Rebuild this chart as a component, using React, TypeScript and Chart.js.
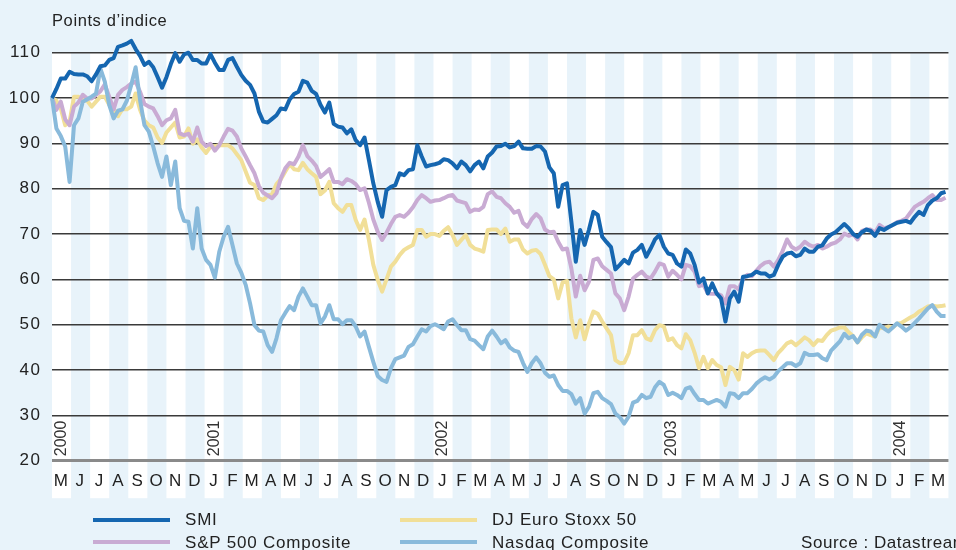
import React, { useEffect, useRef } from "react";
import { Chart, registerables } from "chart.js";

Chart.register(...registerables);

// Month letters, May 2000 → March 2004
const monthLetters = [
  "M", "J", "J", "A", "S", "O", "N", "D",
  "J", "F", "M", "A", "M", "J", "J", "A", "S", "O", "N", "D",
  "J", "F", "M", "A", "M", "J", "J", "A", "S", "O", "N", "D",
  "J", "F", "M", "A", "M", "J", "J", "A", "S", "O", "N", "D",
  "J", "F", "M",
];
const yearLabels = ["2000", "2001", "2002", "2003", "2004"];
const yearMonthIndex = [0, 8, 20, 32, 44];

const yMin = 20;
const yMax = 110;
const yStep = 10;

const seriesNames = ["SMI", "S&P 500 Composite", "DJ Euro Stoxx 50", "Nasdaq Composite"];
const seriesColors = ["#1566b0", "#c9abd3", "#f1df98", "#89badb"];

// Weekly index values (start = 100)
const smi = [
  100, 102, 104.3, 104.3, 105.8, 105.3, 105.2, 105.2, 104.8, 103.7,
  105.2, 107, 107.2, 108.4, 108.8, 111.3, 111.6, 112, 112.6, 110.8,
  109.3, 107.3, 108, 106.8, 104.6, 102.3, 104.6, 107.5, 109.9, 108,
  109.6, 110, 108.4, 108.4, 107.6, 107.6, 109.7, 107.8, 106.2, 106.2,
  108.4, 108.8, 106.9, 105.1, 103.8, 102.9, 101, 97, 94.8, 94.6,
  95.4, 96.2, 97.7, 97.5, 99.7, 100.9, 101.4, 103.8, 103.4, 101.6,
  100.9, 98.5, 96.8, 99, 94.3, 93.7, 93.5, 92.2, 93.1, 90.7,
  89.6, 91.3, 86.3, 81.2, 77.1, 73.8, 79.7, 80.4, 80.8, 83.4,
  83, 84.1, 84.3, 89.6, 87.1, 84.9, 85.2, 85.4, 85.7, 86.5,
  86.3, 85.6, 84.5, 86, 85.2, 83.8, 85.2, 86, 84.5, 87.1,
  88, 89.3, 89.4, 89.9, 89.1, 89.4, 90.4, 88.9, 88.8, 88.8,
  89.4, 89.3, 88.2, 84.7, 83.4, 76, 80.8, 81.2, 72.7, 63.9,
  70.9, 67.6, 71, 74.9, 74.2, 69.4, 68.2, 67.1, 62.2, 63.2,
  64.3, 63.5, 65.9, 66.5, 67.6, 65, 66.8, 68.8, 69.8, 67.2,
  65.7, 65.4, 63.5, 62.8, 66.6, 65.7, 63.2, 59.3, 60.2, 56.9,
  59.1, 56.9, 55.8, 50.7, 55.8, 57.3, 55.1, 60.6, 60.7, 61,
  61.7, 61.3, 61.3, 60.6, 61, 63.2, 65, 65.7, 65.9, 65.1,
  65.4, 66.8, 66.1, 66.1, 67.2, 67.5, 69, 69.9, 70.4, 71.3,
  72.2, 71.3, 70, 69.4, 70.4, 71, 70.7, 69.6, 71.3, 70.9,
  71.5, 72, 72.5, 72.7, 72.9, 72.5, 73.8, 74.9, 74.2, 76.4,
  77.4, 77.9, 79, 79.3,
];

const sp500 = [
  100, 97.4, 99.2, 95.3, 94, 98.1, 99, 100.7, 99.9, 99.9,
  100.7, 101.5, 103, 100.3, 97.5, 100.7, 101.8, 102.4, 103.2, 103.6,
  101.4, 98.7, 98.1, 97.7, 96, 94, 95.1, 95.5, 97.4, 92.2,
  91.8, 92.1, 90.4, 93.5, 90.4, 89.4, 89.9, 88.4, 89.6, 91.5,
  93.2, 92.8, 91.5, 88.9, 87.1, 85.2, 83.4, 80.6, 79.1, 78.5,
  77.9, 79, 82.3, 84.5, 85.7, 85.4, 87.1, 89.6, 87.2, 86.2,
  85, 82.6, 83.4, 84.3, 81.5, 81.5, 81, 82.1, 81.7, 81,
  79.7, 80.1, 76.9, 73.2, 70.5, 68.7, 70.3, 72.2, 73.8, 74.2,
  73.8, 74.7, 75.9, 77.5, 78.6, 77.9, 77.1, 77.4, 77.5, 77.9,
  78.4, 78.6, 77.4, 77.1, 76.8, 74.9, 75.4, 75.3, 76, 78.8,
  79.4, 78.2, 77.9, 76.8, 76, 74.7, 75.1, 72.5, 71.6, 73.3,
  74.4, 73.5, 71, 70.4, 70.5, 68.3, 66.6, 66.8, 62.4, 56.2,
  60.8, 57.6, 59.5, 64.3, 64.6, 62.9, 62.1, 61.3, 56.9, 55.8,
  53.2, 56.2, 60.2, 61, 61.7, 60.6, 60.2, 61.7, 63.5, 63.2,
  60.6, 61.9, 61, 60, 63.2, 62.9, 61.7, 58.5, 58.8, 56.9,
  56.8, 56.9, 56.5, 54.7, 58.5, 58.5, 57.8, 60.2, 61, 60.7,
  61.9, 63, 63.7, 63.9, 62.8, 64.3, 66.3, 68.8, 67.2, 66.6,
  67.2, 68.3, 67.6, 67.2, 67.6, 66.8, 67.2, 67.8, 68.1, 68.8,
  70.1, 69.6, 70, 68.8, 70.7, 71, 71, 70.3, 72, 71.3,
  71.5, 72, 72.6, 72.9, 73.4, 74.7, 76, 76.6, 77.1, 77.9,
  78.6, 77.5, 77.5, 78,
];

const euroStoxx = [
  100, 99.4, 97.7, 94, 94.8, 100.3, 100.3, 99.6, 99.4, 98.1,
  99.2, 100.3, 100.3, 98.5, 97.7, 96, 97.6, 97.5, 98.1, 101,
  97.4, 95, 94, 93.5, 91.3, 90.1, 92.4, 93.5, 94.6, 91.3,
  91.5, 93.3, 89.9, 90.9, 89.1, 87.9, 89.3, 89.4, 89.6, 89.6,
  89.6, 88.9, 87.6, 86.3, 83.8, 81.3, 80.8, 77.9, 77.5, 78.5,
  78.8, 81, 82.1, 83.8, 85.4, 84.3, 84.1, 85.7, 84.3, 83.4,
  82.6, 78.8, 79.6, 81.5, 76.8, 75.7, 74.9, 76.4, 76.4, 73.1,
  70.9, 73.2, 68.7, 63.2, 59.9, 57.3, 60, 62.8, 63.9, 65.4,
  66.5, 67.1, 67.6, 70.9, 70.9, 69.4, 70, 70, 69.6, 70.7,
  71.5, 69.8, 67.6, 68.7, 69.8, 67.6, 66.8, 66.5, 66.1, 70.9,
  71, 71, 70, 71.2, 68.3, 68.8, 68.8, 66.6, 65.7, 66.3,
  66.5, 65.6, 63.2, 60.7, 60, 55.8, 59.3, 59.7, 51.4, 47.2,
  51, 46.8, 50.3, 52.9, 52.4, 50.7, 49.2, 47.7, 42.2, 41.5,
  41.6, 43.7, 47.7, 47.7, 48.8, 47, 46.6, 48.8, 49.9, 49.6,
  46.6, 47, 45.5, 44.8, 47.9, 46.6, 43.8, 40.4, 42.9, 40.4,
  42.2, 41.1, 40.6, 36.7, 40.7, 40, 37.9, 43.7, 42.9, 43.7,
  44.2, 44.3, 44.3, 43.3, 42.2, 43.8, 44.8, 45.9, 46.3, 45.5,
  46.3, 47.2, 46.6, 45.5, 46.6, 46.4, 47.7, 48.7, 49, 49.4,
  49.4, 48.3, 47.5, 46.1, 47.2, 48.1, 47.7, 47.4, 49.4, 49.2,
  49.6, 49.4, 50.2, 50.4, 51, 51.6, 52.1, 52.9, 53.4, 54,
  54.2, 54, 54.1, 54.3,
];

const nasdaq = [
  100, 93.3, 91.6, 89.3, 81.5, 94, 95.5, 99.2, 99.7, 100.3,
  101, 106.5, 103.6, 98.5, 95.5, 97.2, 97.5, 99.4, 102.9, 106.8,
  99.6, 94, 92.6, 89.3, 85.6, 82.6, 87.1, 80.8, 86, 75.7,
  72.9, 72.7, 66.8, 75.7, 66.8, 64.3, 63.2, 60.4, 66.1, 69.4,
  71.6, 67.6, 63.5, 61.5, 58.8, 54.7, 49.9, 48.7, 48.5, 45.5,
  44, 47, 51, 52.6, 54.1, 53.2, 56.2, 58, 56.2, 54.3,
  54.3, 50.3, 51.8, 54.3, 51.2, 51.2, 50.1, 51, 51, 49.6,
  47.4, 48.5, 45.1, 41.8, 38.7, 37.8, 37.4, 40.4, 42.4, 42.8,
  43.2, 45.1, 45.7, 47.4, 49, 48.5, 49.7, 50.1, 49.6, 49,
  50.7, 51.2, 49.9, 48.8, 48.8, 46.8, 46.5, 45.5, 44.6, 47.4,
  48.7, 47.4, 45.9, 46.6, 45, 44.3, 44, 41.6, 39.6, 41.5,
  42.8, 41.5, 39.4, 38.5, 38.8, 36.7, 35.4, 35.4, 34.7, 32.6,
  33.8, 30.4, 31.9, 34.9, 35.2, 33.8, 33.2, 32.5, 30.4, 29.6,
  28.2, 29.7, 32.8, 33.2, 34.5, 33.8, 34.1, 36.2, 37.4, 36.7,
  34.5, 35, 34.5, 33.8, 35.9, 36.2, 34.7, 33.4, 33.4, 32.6,
  33, 33.4, 33, 31.9, 34.9, 34.7, 33.8, 34.9, 34.9, 35.8,
  37, 37.8, 38.4, 37.9, 38.5, 39.8, 40.6, 41.5, 41.5, 40.9,
  41.5, 43.8, 43.3, 43.3, 43.5, 42.6, 42.2, 44.3, 45.3, 46.3,
  48, 47, 47.5, 46.1, 47.8, 48.7, 48.5, 47.4, 50, 49.2,
  48.5, 49.4, 50.3, 49.6, 48.7, 49.4, 50.4, 51.4, 52.5, 53.6,
  54.3, 52.9, 51.9, 51.9,
];

const seriesValues = [smi, sp500, euroStoxx, nasdaq];
const drawOrder = [0, 2, 3, 1]; // lower = on top

const WEEKS_PER_MONTH = 52 / 12;
const FONT = '"Liberation Sans", Arial, Helvetica, sans-serif';
const BG = "#e8f3fa";
const TEXT = "#222";

const bandsPlugin = {
  id: "monthBands",
  beforeDraw(chart: any) {
    const { ctx, scales } = chart;
    const xs = scales.x;
    const ys = scales.y;
    const top = ys.getPixelForValue(yMax);
    const bottom = chart.chartArea.bottom + 37.5;
    ctx.save();
    ctx.fillStyle = "#ffffff";
    for (let i = 0; i < monthLetters.length; i += 2) {
      const x0 = xs.getPixelForValue(i);
      const x1 = xs.getPixelForValue(i + 1);
      ctx.fillRect(x0, top, x1 - x0, bottom - top);
    }
    ctx.restore();
    // slightly tracked axis text, like the original typography
    (ctx as any).letterSpacing = "1.5px";
  },
};

const yearPlugin = {
  id: "yearLabels",
  beforeDatasetsDraw(chart: any) {
    const { ctx, scales } = chart;
    const xs = scales.x;
    const ys = scales.y;
    ctx.save();
    (ctx as any).letterSpacing = "0px";
    ctx.font = `16px ${FONT}`;
    ctx.fillStyle = "#333";
    ctx.textAlign = "left";
    ctx.textBaseline = "middle";
    yearLabels.forEach((label, k) => {
      const x = xs.getPixelForValue(yearMonthIndex[k] + 0.5);
      const y = ys.getPixelForValue(yMin) - 4.5;
      ctx.save();
      ctx.translate(x, y);
      ctx.rotate(-Math.PI / 2);
      ctx.fillText(label, 0, 0);
      ctx.restore();
    });
    ctx.restore();
  },
};

export default function App() {
  const canvasRef = useRef<HTMLCanvasElement | null>(null);

  useEffect(() => {
    const canvas = canvasRef.current;
    if (!canvas) return;
    const datasets = seriesValues.map((vals, s) => ({
      label: seriesNames[s],
      data: vals.map((v, i) => ({ x: i / WEEKS_PER_MONTH, y: v })),
      borderColor: seriesColors[s],
      backgroundColor: seriesColors[s],
      borderWidth: 4,
      pointRadius: 0,
      tension: 0,
      borderJoinStyle: "round" as const,
      clip: false as any,
      order: drawOrder[s],
    }));

    const chart = new Chart(canvas, {
      type: "line",
      data: { datasets },
      options: {
        animation: false,
        responsive: false,
        devicePixelRatio: 1,
        layout: { padding: { top: 52.7, left: 0, right: 0, bottom: 52 } },
        plugins: {
          legend: { display: false },
          title: { display: false },
          tooltip: { enabled: false },
        },
        scales: {
          x: {
            type: "linear",
            min: 0,
            max: monthLetters.length,
            grid: { display: false, drawTicks: false },
            border: { display: false },
            afterBuildTicks: (axis: any) => {
              axis.ticks = monthLetters.map((_, i) => ({ value: i + 0.5 }));
            },
            afterFit: (axis: any) => {
              axis.height = 37.3;
            },
            ticks: {
              autoSkip: false,
              maxRotation: 0,
              minRotation: 0,
              padding: 10,
              color: TEXT,
              font: { family: FONT, size: 17 },
              callback: (_v: any, idx: number) => monthLetters[idx],
            },
          },
          y: {
            type: "linear",
            min: yMin,
            max: yMax,
            afterFit: (axis: any) => {
              axis.width = 52;
            },
            grid: {
              drawTicks: false,
              color: (c: any) => (c.tick && c.tick.value === yMin ? "#8a8a8a" : "#3a3a3a"),
              lineWidth: (c: any) => (c.tick && c.tick.value === yMin ? 3 : 1.5),
            },
            border: { display: false },
            ticks: {
              stepSize: yStep,
              padding: 10.5,
              color: TEXT,
              font: { family: FONT, size: 17 },
            },
          },
        },
      },
      plugins: [bandsPlugin, yearPlugin],
    });
    return () => chart.destroy();
  }, []);

  const legendPos = [
    { left: 93, top: 511.3, line: 517.5 },
    { left: 93, top: 533.6, line: 540.3 },
    { left: 400, top: 511.3, line: 517.5 },
    { left: 400, top: 533.6, line: 540.3 },
  ];

  return (
    <div
      style={{
        position: "fixed",
        left: 0,
        top: 0,
        width: 956,
        height: 550,
        background: BG,
        overflow: "hidden",
        fontFamily: FONT,
        color: TEXT,
      }}
    >
      <canvas
        ref={canvasRef}
        width={956}
        height={550}
        style={{ position: "absolute", left: 0, top: 0, width: 956, height: 550 }}
      />
      <div
        style={{
          position: "absolute",
          left: 52,
          top: 12.3,
          fontSize: 16.5,
          lineHeight: "16.5px",
          letterSpacing: "0.6px",
          whiteSpace: "nowrap",
        }}
      >
        Points d’indice
      </div>
      {seriesNames.map((name, s) => (
        <React.Fragment key={name}>
          <div
            style={{
              position: "absolute",
              left: legendPos[s].left,
              top: legendPos[s].line,
              width: 77,
              height: 4,
              background: seriesColors[s],
            }}
          />
          <div
            style={{
              position: "absolute",
              left: legendPos[s].left + 92,
              top: legendPos[s].top,
              fontSize: 17,
              lineHeight: "17px",
              letterSpacing: "0.8px",
              whiteSpace: "nowrap",
            }}
          >
            {name}
          </div>
        </React.Fragment>
      ))}
      <div
        style={{
          position: "absolute",
          left: 801,
          top: 533.6,
          fontSize: 17,
          lineHeight: "17px",
          letterSpacing: "0.55px",
          whiteSpace: "nowrap",
        }}
      >
        Source : Datastream
      </div>
    </div>
  );
}
